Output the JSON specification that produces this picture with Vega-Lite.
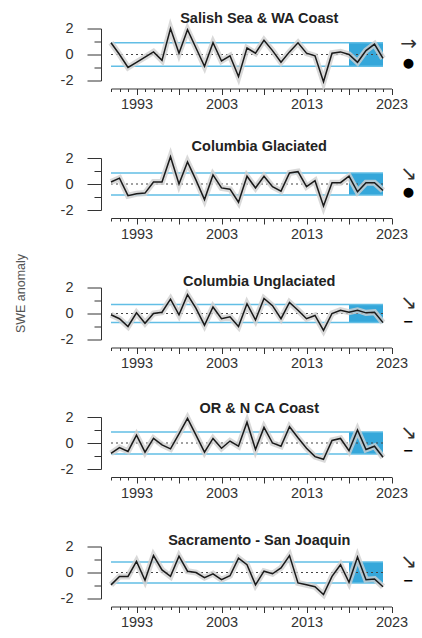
{
  "$schema": "https://vega.github.io/schema/vega-lite/v6.json",
  "padding": {"left": 14, "top": 10.5, "right": 0, "bottom": 0},
  "bounds": "flush",
  "spacing": 77.5,
  "config": {
    "view": {"stroke": null},
    "font": "Liberation Sans",
    "title": {"font": "Liberation Sans", "fontSize": 14.5, "fontWeight": "bold", "color": "#222", "offset": -10, "dx": 8, "anchor": "middle", "frame": "group"},
    "axis": {"grid": false, "domainColor": "#333", "tickColor": "#333", "labelColor": "#333", "labelFont": "Liberation Sans", "labelFontSize": 14.5, "domainWidth": 1, "tickWidth": 1, "labelOverlap": false},
    "axisX": {"tickCount": 34, "labelExpr": "(datum.value - 1993) % 10 === 0 ? toString(datum.value) : ''", "tickSize": {"condition": {"test": "(datum.value - 1993) % 5 === 0", "value": 6}, "value": 3}, "offset": 8, "labelPadding": 3, "labelFlush": false},
    "axisY": {"tickCount": 4, "labelExpr": "datum.value % 2 === 0 ? toString(datum.value) : ''", "tickSize": {"condition": {"test": "datum.value % 2 === 0", "value": 14}, "value": 7}, "offset": 10, "labelPadding": 14, "titleX": -74, "titleY": 135, "titleFont": "Liberation Sans", "titleFontSize": 12.5, "titleFontWeight": "normal", "titleColor": "#555"}
  },
  "datasets": {
    "summary": [
      {"region": "salish", "first": 1990, "last": 2022, "recent_start": 2018, "sd_lo": -0.9, "sd_hi": 0.9, "trend": "→", "status": "●"},
      {"region": "glaciated", "first": 1990, "last": 2022, "recent_start": 2018, "sd_lo": -0.85, "sd_hi": 0.85, "trend": "↘", "status": "●"},
      {"region": "unglaciated", "first": 1990, "last": 2022, "recent_start": 2018, "sd_lo": -0.7, "sd_hi": 0.7, "trend": "↘", "status": "−"},
      {"region": "orcoast", "first": 1990, "last": 2022, "recent_start": 2018, "sd_lo": -0.85, "sd_hi": 0.85, "trend": "↘", "status": "−"},
      {"region": "sacsj", "first": 1990, "last": 2022, "recent_start": 2018, "sd_lo": -0.8, "sd_hi": 0.8, "trend": "↘", "status": "−"}
    ],
    "salish": [
      {"year": 1990, "swe": 0.9}, {"year": 1991, "swe": 0.0}, {"year": 1992, "swe": -1.0}, {"year": 1993, "swe": -0.6}, {"year": 1994, "swe": -0.2},
      {"year": 1995, "swe": 0.2}, {"year": 1996, "swe": -0.45}, {"year": 1997, "swe": 2.0}, {"year": 1998, "swe": 0.1}, {"year": 1999, "swe": 1.9},
      {"year": 2000, "swe": 0.5}, {"year": 2001, "swe": -0.9}, {"year": 2002, "swe": 0.9}, {"year": 2003, "swe": -0.5}, {"year": 2004, "swe": -0.1},
      {"year": 2005, "swe": -1.7}, {"year": 2006, "swe": 0.5}, {"year": 2007, "swe": 0.1}, {"year": 2008, "swe": 1.1}, {"year": 2009, "swe": 0.3},
      {"year": 2010, "swe": -0.6}, {"year": 2011, "swe": 0.2}, {"year": 2012, "swe": 0.9}, {"year": 2013, "swe": 0.1}, {"year": 2014, "swe": -0.1},
      {"year": 2015, "swe": -2.1}, {"year": 2016, "swe": 0.1}, {"year": 2017, "swe": 0.2}, {"year": 2018, "swe": 0.0}, {"year": 2019, "swe": -0.6},
      {"year": 2020, "swe": 0.3}, {"year": 2021, "swe": 0.8}, {"year": 2022, "swe": -0.3}
    ],
    "glaciated": [
      {"year": 1990, "swe": 0.15}, {"year": 1991, "swe": 0.45}, {"year": 1992, "swe": -0.9}, {"year": 1993, "swe": -0.75}, {"year": 1994, "swe": -0.7},
      {"year": 1995, "swe": 0.15}, {"year": 1996, "swe": 0.15}, {"year": 1997, "swe": 2.1}, {"year": 1998, "swe": 0.0}, {"year": 1999, "swe": 1.7},
      {"year": 2000, "swe": 0.3}, {"year": 2001, "swe": -1.2}, {"year": 2002, "swe": 0.7}, {"year": 2003, "swe": -0.3}, {"year": 2004, "swe": -0.4},
      {"year": 2005, "swe": -1.4}, {"year": 2006, "swe": 0.6}, {"year": 2007, "swe": -0.3}, {"year": 2008, "swe": 0.6}, {"year": 2009, "swe": -0.2},
      {"year": 2010, "swe": -0.55}, {"year": 2011, "swe": 0.85}, {"year": 2012, "swe": 0.95}, {"year": 2013, "swe": -0.2}, {"year": 2014, "swe": 0.25},
      {"year": 2015, "swe": -1.7}, {"year": 2016, "swe": 0.1}, {"year": 2017, "swe": 0.1}, {"year": 2018, "swe": 0.6}, {"year": 2019, "swe": -0.6},
      {"year": 2020, "swe": 0.1}, {"year": 2021, "swe": 0.1}, {"year": 2022, "swe": -0.5}
    ],
    "unglaciated": [
      {"year": 1990, "swe": -0.1}, {"year": 1991, "swe": -0.4}, {"year": 1992, "swe": -1.0}, {"year": 1993, "swe": 0.05}, {"year": 1994, "swe": -0.75},
      {"year": 1995, "swe": 0.0}, {"year": 1996, "swe": 0.1}, {"year": 1997, "swe": 1.1}, {"year": 1998, "swe": -0.1}, {"year": 1999, "swe": 1.45},
      {"year": 2000, "swe": 0.4}, {"year": 2001, "swe": -0.9}, {"year": 2002, "swe": 0.5}, {"year": 2003, "swe": -0.4}, {"year": 2004, "swe": -0.25},
      {"year": 2005, "swe": -1.0}, {"year": 2006, "swe": 0.75}, {"year": 2007, "swe": -0.5}, {"year": 2008, "swe": 1.15}, {"year": 2009, "swe": 0.6},
      {"year": 2010, "swe": -0.4}, {"year": 2011, "swe": 0.85}, {"year": 2012, "swe": 0.25}, {"year": 2013, "swe": -0.4}, {"year": 2014, "swe": -0.15},
      {"year": 2015, "swe": -1.3}, {"year": 2016, "swe": 0.0}, {"year": 2017, "swe": 0.25}, {"year": 2018, "swe": 0.1}, {"year": 2019, "swe": 0.25},
      {"year": 2020, "swe": 0.05}, {"year": 2021, "swe": 0.1}, {"year": 2022, "swe": -0.7}
    ],
    "orcoast": [
      {"year": 1990, "swe": -0.8}, {"year": 1991, "swe": -0.35}, {"year": 1992, "swe": -0.65}, {"year": 1993, "swe": 0.6}, {"year": 1994, "swe": -0.7},
      {"year": 1995, "swe": 0.35}, {"year": 1996, "swe": -0.15}, {"year": 1997, "swe": -0.45}, {"year": 1998, "swe": 0.7}, {"year": 1999, "swe": 1.9},
      {"year": 2000, "swe": 0.6}, {"year": 2001, "swe": -0.7}, {"year": 2002, "swe": 0.35}, {"year": 2003, "swe": -0.4}, {"year": 2004, "swe": 0.15},
      {"year": 2005, "swe": -0.25}, {"year": 2006, "swe": 1.6}, {"year": 2007, "swe": -0.5}, {"year": 2008, "swe": 1.2}, {"year": 2009, "swe": 0.0},
      {"year": 2010, "swe": -0.25}, {"year": 2011, "swe": 1.25}, {"year": 2012, "swe": 0.4}, {"year": 2013, "swe": -0.4}, {"year": 2014, "swe": -1.05},
      {"year": 2015, "swe": -1.25}, {"year": 2016, "swe": 0.2}, {"year": 2017, "swe": 0.35}, {"year": 2018, "swe": -0.6}, {"year": 2019, "swe": 1.0},
      {"year": 2020, "swe": -0.5}, {"year": 2021, "swe": -0.25}, {"year": 2022, "swe": -1.1}
    ],
    "sacsj": [
      {"year": 1990, "swe": -0.95}, {"year": 1991, "swe": -0.3}, {"year": 1992, "swe": -0.3}, {"year": 1993, "swe": 0.85}, {"year": 1994, "swe": -0.6},
      {"year": 1995, "swe": 1.3}, {"year": 1996, "swe": 0.2}, {"year": 1997, "swe": -0.3}, {"year": 1998, "swe": 1.25}, {"year": 1999, "swe": 0.1},
      {"year": 2000, "swe": 0.0}, {"year": 2001, "swe": -0.4}, {"year": 2002, "swe": -0.1}, {"year": 2003, "swe": -0.55}, {"year": 2004, "swe": -0.25},
      {"year": 2005, "swe": 1.1}, {"year": 2006, "swe": 0.6}, {"year": 2007, "swe": -0.95}, {"year": 2008, "swe": 0.1}, {"year": 2009, "swe": -0.1},
      {"year": 2010, "swe": 0.35}, {"year": 2011, "swe": 1.3}, {"year": 2012, "swe": -0.8}, {"year": 2013, "swe": -0.95}, {"year": 2014, "swe": -1.1},
      {"year": 2015, "swe": -1.7}, {"year": 2016, "swe": -0.3}, {"year": 2017, "swe": 0.6}, {"year": 2018, "swe": -0.75}, {"year": 2019, "swe": 1.2},
      {"year": 2020, "swe": -0.55}, {"year": 2021, "swe": -0.5}, {"year": 2022, "swe": -1.1}
    ]
  },
  "vconcat": [
    {
      "title": {"text": "Salish Sea & WA Coast", "frame": "group", "dx": 8},
      "width": 280.5, "height": 52,
      "layer": [
        {"data": {"name": "summary"}, "transform": [{"filter": "datum.region === 'salish'"}],
         "layer": [
          {"mark": {"type": "rect", "color": "#35A7DA"}, "encoding": {"x": {"field": "recent_start", "type": "quantitative", "title": null, "scale": {"domain": [1990, 2023], "nice": false, "zero": false}}, "x2": {"field": "last"}, "y": {"field": "sd_lo", "type": "quantitative", "title": null, "scale": {"domain": [-2, 2], "nice": false}}, "y2": {"field": "sd_hi"}}},
          {"mark": {"type": "rule", "color": "#62BEE5", "strokeWidth": 1.5}, "encoding": {"x": {"field": "first", "type": "quantitative", "title": null}, "x2": {"field": "last"}, "y": {"field": "sd_hi", "type": "quantitative", "title": null}}},
          {"mark": {"type": "rule", "color": "#62BEE5", "strokeWidth": 1.5}, "encoding": {"x": {"field": "first", "type": "quantitative", "title": null}, "x2": {"field": "last"}, "y": {"field": "sd_lo", "type": "quantitative", "title": null}}},
          {"mark": {"type": "rule", "color": "#444", "strokeDash": [2, 3], "strokeWidth": 1.2}, "encoding": {"x": {"field": "first", "type": "quantitative", "title": null}, "x2": {"field": "last"}, "y": {"datum": 0, "type": "quantitative", "title": null}}},
          {"mark": {"type": "text", "font": "DejaVu Sans", "fontSize": 20, "color": "#333"}, "encoding": {"x": {"datum": 2025, "type": "quantitative", "title": null}, "y": {"datum": 0.8, "type": "quantitative", "title": null}, "text": {"field": "trend"}}},
          {"mark": {"type": "text", "font": "DejaVu Sans", "fontSize": 13, "fontWeight": "bold", "color": "#000"}, "encoding": {"x": {"datum": 2025, "type": "quantitative", "title": null}, "y": {"datum": -0.65, "type": "quantitative", "title": null}, "text": {"field": "status"}}}
         ]},
        {"data": {"name": "salish"},
         "layer": [
          {"mark": {"type": "line", "color": "#cfcfcf", "strokeWidth": 6, "opacity": 0.8}, "encoding": {"x": {"field": "year", "type": "quantitative", "title": null}, "y": {"field": "swe", "type": "quantitative", "title": null}}},
          {"mark": {"type": "line", "color": "#1a1a1a", "strokeWidth": 1.5}, "encoding": {"x": {"field": "year", "type": "quantitative", "title": null}, "y": {"field": "swe", "type": "quantitative", "title": null}}}
         ]}
      ]
    },
    {
      "title": {"text": "Columbia Glaciated", "frame": "group", "dx": 8},
      "width": 280.5, "height": 52,
      "layer": [
        {"data": {"name": "summary"}, "transform": [{"filter": "datum.region === 'glaciated'"}],
         "layer": [
          {"mark": {"type": "rect", "color": "#35A7DA"}, "encoding": {"x": {"field": "recent_start", "type": "quantitative", "title": null, "scale": {"domain": [1990, 2023], "nice": false, "zero": false}}, "x2": {"field": "last"}, "y": {"field": "sd_lo", "type": "quantitative", "title": "SWE anomaly", "scale": {"domain": [-2, 2], "nice": false}}, "y2": {"field": "sd_hi"}}},
          {"mark": {"type": "rule", "color": "#62BEE5", "strokeWidth": 1.5}, "encoding": {"x": {"field": "first", "type": "quantitative", "title": null}, "x2": {"field": "last"}, "y": {"field": "sd_hi", "type": "quantitative", "title": "SWE anomaly"}}},
          {"mark": {"type": "rule", "color": "#62BEE5", "strokeWidth": 1.5}, "encoding": {"x": {"field": "first", "type": "quantitative", "title": null}, "x2": {"field": "last"}, "y": {"field": "sd_lo", "type": "quantitative", "title": "SWE anomaly"}}},
          {"mark": {"type": "rule", "color": "#444", "strokeDash": [2, 3], "strokeWidth": 1.2}, "encoding": {"x": {"field": "first", "type": "quantitative", "title": null}, "x2": {"field": "last"}, "y": {"datum": 0, "type": "quantitative", "title": "SWE anomaly"}}},
          {"mark": {"type": "text", "font": "DejaVu Sans", "fontSize": 20, "color": "#333"}, "encoding": {"x": {"datum": 2025, "type": "quantitative", "title": null}, "y": {"datum": 0.8, "type": "quantitative", "title": "SWE anomaly"}, "text": {"field": "trend"}}},
          {"mark": {"type": "text", "font": "DejaVu Sans", "fontSize": 13, "fontWeight": "bold", "color": "#000"}, "encoding": {"x": {"datum": 2025, "type": "quantitative", "title": null}, "y": {"datum": -0.65, "type": "quantitative", "title": "SWE anomaly"}, "text": {"field": "status"}}}
         ]},
        {"data": {"name": "glaciated"},
         "layer": [
          {"mark": {"type": "line", "color": "#cfcfcf", "strokeWidth": 6, "opacity": 0.8}, "encoding": {"x": {"field": "year", "type": "quantitative", "title": null}, "y": {"field": "swe", "type": "quantitative", "title": "SWE anomaly"}}},
          {"mark": {"type": "line", "color": "#1a1a1a", "strokeWidth": 1.5}, "encoding": {"x": {"field": "year", "type": "quantitative", "title": null}, "y": {"field": "swe", "type": "quantitative", "title": "SWE anomaly"}}}
         ]}
      ]
    },
    {
      "title": {"text": "Columbia Unglaciated", "frame": "group", "dx": 8},
      "width": 280.5, "height": 52,
      "layer": [
        {"data": {"name": "summary"}, "transform": [{"filter": "datum.region === 'unglaciated'"}],
         "layer": [
          {"mark": {"type": "rect", "color": "#35A7DA"}, "encoding": {"x": {"field": "recent_start", "type": "quantitative", "title": null, "scale": {"domain": [1990, 2023], "nice": false, "zero": false}}, "x2": {"field": "last"}, "y": {"field": "sd_lo", "type": "quantitative", "title": null, "scale": {"domain": [-2, 2], "nice": false}}, "y2": {"field": "sd_hi"}}},
          {"mark": {"type": "rule", "color": "#62BEE5", "strokeWidth": 1.5}, "encoding": {"x": {"field": "first", "type": "quantitative", "title": null}, "x2": {"field": "last"}, "y": {"field": "sd_hi", "type": "quantitative", "title": null}}},
          {"mark": {"type": "rule", "color": "#62BEE5", "strokeWidth": 1.5}, "encoding": {"x": {"field": "first", "type": "quantitative", "title": null}, "x2": {"field": "last"}, "y": {"field": "sd_lo", "type": "quantitative", "title": null}}},
          {"mark": {"type": "rule", "color": "#444", "strokeDash": [2, 3], "strokeWidth": 1.2}, "encoding": {"x": {"field": "first", "type": "quantitative", "title": null}, "x2": {"field": "last"}, "y": {"datum": 0, "type": "quantitative", "title": null}}},
          {"mark": {"type": "text", "font": "DejaVu Sans", "fontSize": 20, "color": "#333"}, "encoding": {"x": {"datum": 2025, "type": "quantitative", "title": null}, "y": {"datum": 0.8, "type": "quantitative", "title": null}, "text": {"field": "trend"}}},
          {"mark": {"type": "text", "font": "DejaVu Sans", "fontSize": 13, "fontWeight": "bold", "color": "#000"}, "encoding": {"x": {"datum": 2025, "type": "quantitative", "title": null}, "y": {"datum": -0.65, "type": "quantitative", "title": null}, "text": {"field": "status"}}}
         ]},
        {"data": {"name": "unglaciated"},
         "layer": [
          {"mark": {"type": "line", "color": "#cfcfcf", "strokeWidth": 6, "opacity": 0.8}, "encoding": {"x": {"field": "year", "type": "quantitative", "title": null}, "y": {"field": "swe", "type": "quantitative", "title": null}}},
          {"mark": {"type": "line", "color": "#1a1a1a", "strokeWidth": 1.5}, "encoding": {"x": {"field": "year", "type": "quantitative", "title": null}, "y": {"field": "swe", "type": "quantitative", "title": null}}}
         ]}
      ]
    },
    {
      "title": {"text": "OR & N CA Coast", "frame": "group", "dx": 8},
      "width": 280.5, "height": 52,
      "layer": [
        {"data": {"name": "summary"}, "transform": [{"filter": "datum.region === 'orcoast'"}],
         "layer": [
          {"mark": {"type": "rect", "color": "#35A7DA"}, "encoding": {"x": {"field": "recent_start", "type": "quantitative", "title": null, "scale": {"domain": [1990, 2023], "nice": false, "zero": false}}, "x2": {"field": "last"}, "y": {"field": "sd_lo", "type": "quantitative", "title": null, "scale": {"domain": [-2, 2], "nice": false}}, "y2": {"field": "sd_hi"}}},
          {"mark": {"type": "rule", "color": "#62BEE5", "strokeWidth": 1.5}, "encoding": {"x": {"field": "first", "type": "quantitative", "title": null}, "x2": {"field": "last"}, "y": {"field": "sd_hi", "type": "quantitative", "title": null}}},
          {"mark": {"type": "rule", "color": "#62BEE5", "strokeWidth": 1.5}, "encoding": {"x": {"field": "first", "type": "quantitative", "title": null}, "x2": {"field": "last"}, "y": {"field": "sd_lo", "type": "quantitative", "title": null}}},
          {"mark": {"type": "rule", "color": "#444", "strokeDash": [2, 3], "strokeWidth": 1.2}, "encoding": {"x": {"field": "first", "type": "quantitative", "title": null}, "x2": {"field": "last"}, "y": {"datum": 0, "type": "quantitative", "title": null}}},
          {"mark": {"type": "text", "font": "DejaVu Sans", "fontSize": 20, "color": "#333"}, "encoding": {"x": {"datum": 2025, "type": "quantitative", "title": null}, "y": {"datum": 0.8, "type": "quantitative", "title": null}, "text": {"field": "trend"}}},
          {"mark": {"type": "text", "font": "DejaVu Sans", "fontSize": 13, "fontWeight": "bold", "color": "#000"}, "encoding": {"x": {"datum": 2025, "type": "quantitative", "title": null}, "y": {"datum": -0.65, "type": "quantitative", "title": null}, "text": {"field": "status"}}}
         ]},
        {"data": {"name": "orcoast"},
         "layer": [
          {"mark": {"type": "line", "color": "#cfcfcf", "strokeWidth": 6, "opacity": 0.8}, "encoding": {"x": {"field": "year", "type": "quantitative", "title": null}, "y": {"field": "swe", "type": "quantitative", "title": null}}},
          {"mark": {"type": "line", "color": "#1a1a1a", "strokeWidth": 1.5}, "encoding": {"x": {"field": "year", "type": "quantitative", "title": null}, "y": {"field": "swe", "type": "quantitative", "title": null}}}
         ]}
      ]
    },
    {
      "title": {"text": "Sacramento - San Joaquin", "frame": "group", "dx": 8},
      "width": 280.5, "height": 52,
      "layer": [
        {"data": {"name": "summary"}, "transform": [{"filter": "datum.region === 'sacsj'"}],
         "layer": [
          {"mark": {"type": "rect", "color": "#35A7DA"}, "encoding": {"x": {"field": "recent_start", "type": "quantitative", "title": null, "scale": {"domain": [1990, 2023], "nice": false, "zero": false}}, "x2": {"field": "last"}, "y": {"field": "sd_lo", "type": "quantitative", "title": null, "scale": {"domain": [-2, 2], "nice": false}}, "y2": {"field": "sd_hi"}}},
          {"mark": {"type": "rule", "color": "#62BEE5", "strokeWidth": 1.5}, "encoding": {"x": {"field": "first", "type": "quantitative", "title": null}, "x2": {"field": "last"}, "y": {"field": "sd_hi", "type": "quantitative", "title": null}}},
          {"mark": {"type": "rule", "color": "#62BEE5", "strokeWidth": 1.5}, "encoding": {"x": {"field": "first", "type": "quantitative", "title": null}, "x2": {"field": "last"}, "y": {"field": "sd_lo", "type": "quantitative", "title": null}}},
          {"mark": {"type": "rule", "color": "#444", "strokeDash": [2, 3], "strokeWidth": 1.2}, "encoding": {"x": {"field": "first", "type": "quantitative", "title": null}, "x2": {"field": "last"}, "y": {"datum": 0, "type": "quantitative", "title": null}}},
          {"mark": {"type": "text", "font": "DejaVu Sans", "fontSize": 20, "color": "#333"}, "encoding": {"x": {"datum": 2025, "type": "quantitative", "title": null}, "y": {"datum": 0.8, "type": "quantitative", "title": null}, "text": {"field": "trend"}}},
          {"mark": {"type": "text", "font": "DejaVu Sans", "fontSize": 13, "fontWeight": "bold", "color": "#000"}, "encoding": {"x": {"datum": 2025, "type": "quantitative", "title": null}, "y": {"datum": -0.65, "type": "quantitative", "title": null}, "text": {"field": "status"}}}
         ]},
        {"data": {"name": "sacsj"},
         "layer": [
          {"mark": {"type": "line", "color": "#cfcfcf", "strokeWidth": 6, "opacity": 0.8}, "encoding": {"x": {"field": "year", "type": "quantitative", "title": null}, "y": {"field": "swe", "type": "quantitative", "title": null}}},
          {"mark": {"type": "line", "color": "#1a1a1a", "strokeWidth": 1.5}, "encoding": {"x": {"field": "year", "type": "quantitative", "title": null}, "y": {"field": "swe", "type": "quantitative", "title": null}}}
         ]}
      ]
    }
  ]
}
